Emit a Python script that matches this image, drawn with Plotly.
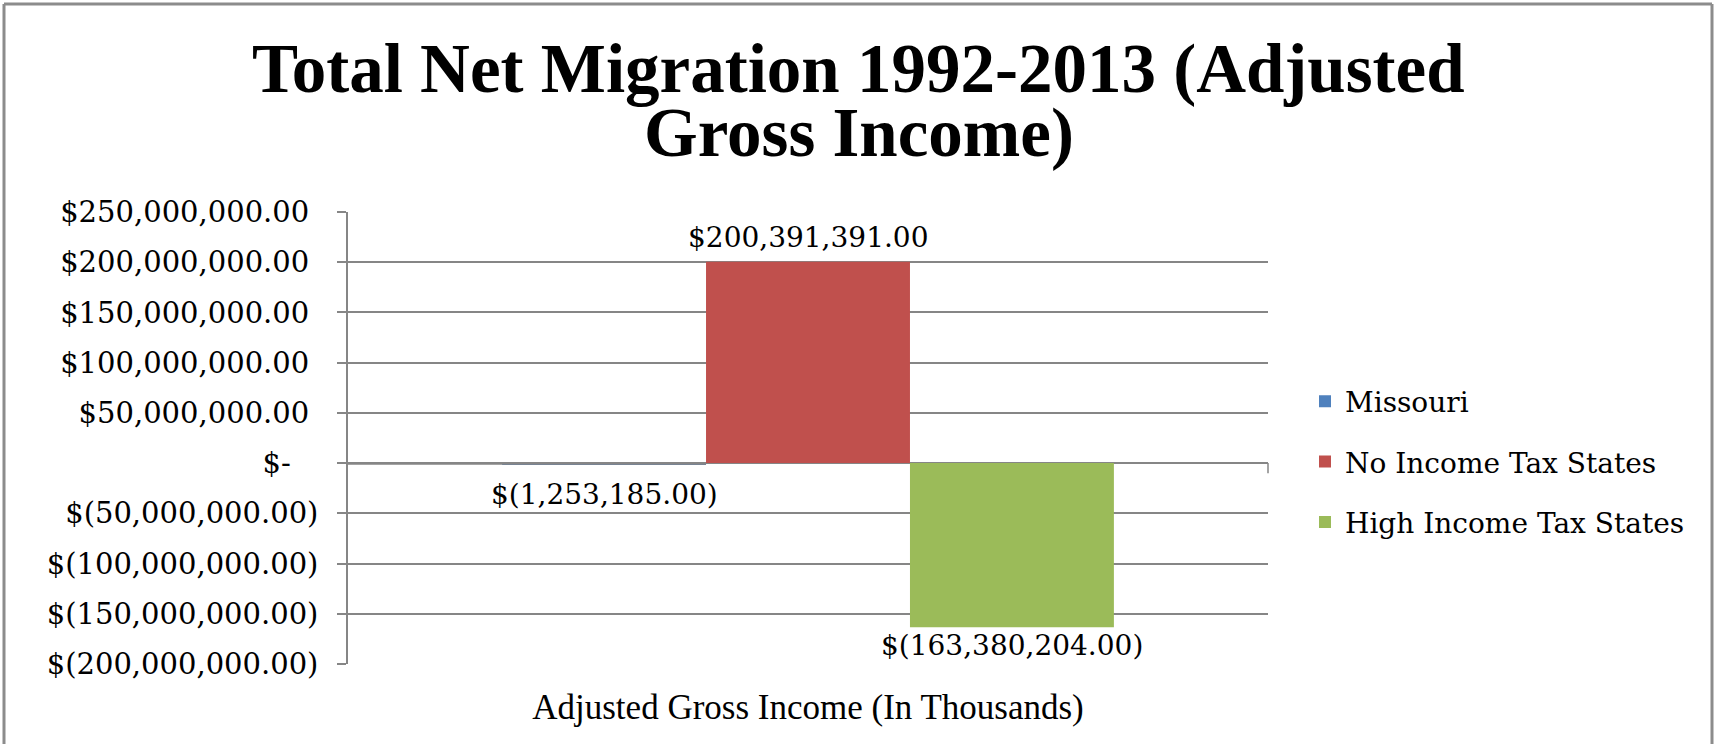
import plotly.graph_objects as go

# ---- data ----
category = ["Adjusted Gross Income (In Thousands)"]
series_names = ["Missouri", "No Income Tax States", "High Income Tax States"]
series_values = [-1253185.00, 200391391.00, -163380204.00]
series_colors = ["#4F81BD", "#C0504D", "#9BBB59"]
y_ticks = [250e6, 200e6, 150e6, 100e6, 50e6, 0, -50e6, -100e6, -150e6, -200e6]

title_lines = ["Total Net Migration 1992-2013 (Adjusted", "Gross Income)"]


def accounting(v):
    """Excel-style accounting format: $1,234.00 / $(1,234.00) / $-"""
    if v == 0:
        return "$-"
    s = f"{abs(v):,.2f}"
    return f"$({s})" if v < 0 else f"${s}"


W, H = 1717, 744
L, R, T, B = 348, 1268, 212, 664  # plot area in pixels
pw, ph = R - L, B - T

bargap = 0.335
bar_w = (1 - bargap) / 3

fig = go.Figure()
for name, val, col in zip(series_names, series_values, series_colors):
    fig.add_trace(go.Bar(
        x=category, y=[val], name=name, marker_color=col,
        marker_line_width=0, legendgroup=name,
    ))

# tick labels, padded so positive labels align with the parenthesised ones
nb = "\u00a0"
tick_text = []
for v in y_ticks:
    t = accounting(v)
    if v > 0:
        t += nb
    elif v == 0:
        t += nb * 3
    tick_text.append(t)

serif = "DejaVu Serif"
times = "Liberation Serif"
grid = "#868686"

annotations = []
# value labels
shifts = [-30.5, 24.5, -18.5]
for i, (val, sh) in enumerate(zip(series_values, shifts)):
    annotations.append(dict(
        x=(i - 1) * bar_w, y=val, xref="x", yref="y",
        text=accounting(val), showarrow=False, yshift=sh,
        yanchor="middle", xanchor="center",
        font=dict(family=serif, size=28, color="#000"),
    ))

# chart title, two lines
for line, ypix in zip(title_lines, [69, 133]):
    annotations.append(dict(
        x=(W / 2 - L) / pw, y=(B - ypix) / ph, xref="paper", yref="paper",
        text=f"<b>{line}</b>", showarrow=False, xanchor="center", yanchor="middle",
        font=dict(family=times, size=69, color="#000"),
    ))

frame = dict(type="line", xref="paper", yref="paper",
             line=dict(color="#8C8C8C", width=3))
shapes = [
    dict(frame, x0=(4 - L) / pw, x1=(4 - L) / pw, y0=(B - 4) / ph, y1=(B - H) / ph),
    dict(frame, x0=(4 - L) / pw, x1=(1712 - L) / pw, y0=(B - 4) / ph, y1=(B - 4) / ph),
    dict(frame, x0=(1712 - L) / pw, x1=(1712 - L) / pw, y0=(B - 4) / ph, y1=(B - 4 - H) / ph),
    # zero line drawn over the (very thin) Missouri bar
    dict(type="line", xref="paper", yref="y", x0=0, x1=bargap / 2 + bar_w,
         y0=series_values[0] / 2, y1=series_values[0] / 2,
         layer="above", line=dict(color=grid, width=2)),
    # category boundary tick on the zero axis
    dict(type="line", xref="paper", yref="y", x0=1, x1=1, y0=0, y1=-10e6,
         line=dict(color=grid, width=1.5)),
]

fig.update_layout(
    width=W, height=H,
    margin=dict(l=L, r=W - R, t=T, b=H - B, pad=0),
    paper_bgcolor="white", plot_bgcolor="white",
    barmode="group", bargap=bargap, bargroupgap=0,
    showlegend=True,
    legend=dict(
        x=(1305 - L) / pw, y=(B - 462) / ph, xanchor="left", yanchor="middle",
        font=dict(family=serif, size=28, color="#000"),
        tracegroupgap=21, itemwidth=30, bgcolor="rgba(0,0,0,0)",
    ),
    xaxis=dict(
        showgrid=False, showline=False, ticks="", zeroline=False,
        tickfont=dict(family=times, size=35, color="#000"),
        ticklabelstandoff=19,
    ),
    yaxis=dict(
        range=[-200e6, 250e6], tickvals=y_ticks, ticktext=tick_text,
        showgrid=True, gridcolor=grid, gridwidth=1.5,
        zeroline=False, showline=True, linecolor=grid, linewidth=1.5,
        ticks="outside", ticklen=9, tickcolor=grid, tickwidth=1.5,
        tickfont=dict(family=serif, size=29, color="#000"),
        ticklabelstandoff=13,
    ),
    annotations=annotations,
    shapes=shapes,
)

fig.write_html("out.html")
